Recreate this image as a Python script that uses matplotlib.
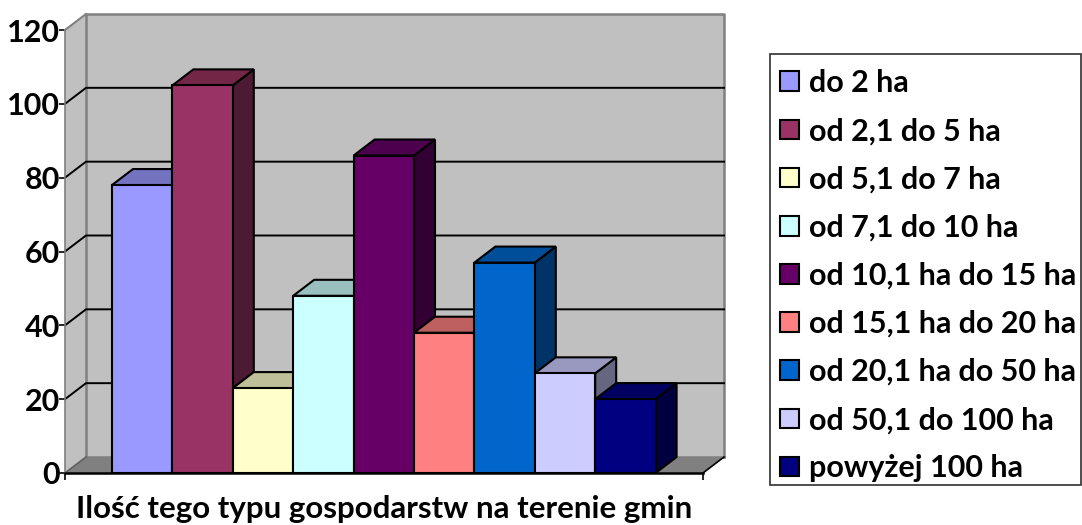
import matplotlib
matplotlib.use("Agg")
import matplotlib.pyplot as plt
from matplotlib.patches import Patch, Polygon, Rectangle

plt.rcParams['font.family'] = ['Lato', 'DejaVu Sans']

labels = ["do 2 ha", "od 2,1 do 5 ha", "od 5,1 do 7 ha", "od 7,1 do 10 ha", "od 10,1 ha do 15 ha",
          "od 15,1 ha do 20 ha", "od 20,1 ha do 50 ha", "od 50,1 do 100 ha", "powyżej 100 ha"]
values = [78, 105, 23, 48, 86, 38, 57, 27, 20]
front_colors = ["#9999FF", "#993366", "#FFFFCC", "#CCFFFF", "#660066", "#FF8080", "#0066CC", "#CCCCFF", "#000080"]
top_colors = ["#7373BF", "#732645", "#BFBF99", "#99BFBF", "#4D004D", "#BF6060", "#004D99", "#9999BF", "#000060"]
side_colors = ["#4D4D80", "#4D1A33", "#808066", "#668080", "#330033", "#804040", "#003366", "#666680", "#000040"]
yticks = [0, 20, 40, 60, 80, 100, 120]

W, H = 1082, 525
fig = plt.figure(figsize=(W / 100, H / 100), dpi=100)
ax = fig.add_axes([65 / W, 1 - 473 / H, 638 / W, 443 / H])

bar_w = 1
xmax = 638 / 60.4
ax.set_xlim(0, xmax)
ax.set_ylim(0, 120)
dx = 21 / 60.4   # depth of the 3d look
dy = 16 / (443 / 120)
x0 = 47 / 60.4

# walls and floor
ax.add_patch(Polygon([(dx, dy), (xmax + dx, dy), (xmax + dx, 120 + dy), (dx, 120 + dy)], fc="#C0C0C0", ec="none", clip_on=False, zorder=1))
ax.add_patch(Polygon([(0, 0), (dx, dy), (dx, 120 + dy), (0, 120)], fc="#C0C0C0", ec="none", clip_on=False, zorder=1))
ax.add_patch(Polygon([(0, 0), (xmax, 0), (xmax + dx, dy), (dx, dy)], fc="#808080", ec="none", clip_on=False, zorder=1))
ax.plot([dx, dx, xmax + dx, xmax + dx], [dy, 120 + dy, 120 + dy, dy], color="#808080", lw=1.8, clip_on=False, zorder=2)
ax.plot([dx, xmax + dx], [dy, dy], color="#808080", lw=1.8, clip_on=False, zorder=2)
ax.plot([0, dx], [120, 120 + dy], color="#808080", lw=1.5, clip_on=False, zorder=2)
ax.plot([xmax, xmax + dx], [0, dy], color="black", lw=1.2, clip_on=False, zorder=2)
ax.plot([0, dx], [0, dy], color="#606060", lw=1.2, clip_on=False, zorder=2)

for t in yticks[1:-1]:
    ax.plot([0, dx, xmax + dx], [t, t + dy, t + dy], color="black", lw=1.4, clip_on=False, zorder=2)

# bars from left to right so later ones cover earlier sides
z = 3
for i, v in enumerate(values):
    left = x0 + i * bar_w
    right = left + bar_w
    ax.add_patch(Polygon([(right, 0), (right + dx, dy), (right + dx, v + dy), (right, v)], fc=side_colors[i], ec="black", lw=1.5, clip_on=False, zorder=z))
    ax.add_patch(Polygon([(left, v), (right, v), (right + dx, v + dy), (left + dx, v + dy)], fc=top_colors[i], ec="black", lw=1.5, clip_on=False, zorder=z))
    ax.bar(left, v, width=bar_w, align="edge", color=front_colors[i], edgecolor="black", lw=1.5, zorder=z + 1)
    z += 2

for s in ["top", "right"]:
    ax.spines[s].set_visible(False)
ax.spines["left"].set_color("#808080")
ax.spines["left"].set_linewidth(1.2)
ax.spines["bottom"].set_linewidth(1.8)
ax.spines["bottom"].set_zorder(30)

ax.set_yticks(yticks)
ax.set_yticklabels([str(t) for t in yticks], fontsize=22, fontweight="bold")
ax.tick_params(axis="y", length=4, width=1.2, pad=-0.5)
ax.set_xticks([0, xmax])
ax.set_xticklabels([])
ax.tick_params(axis="x", length=5, width=1.2)
ax.set_xlabel("Ilość tego typu gospodarstw na terenie gmin", fontsize=22.5, fontweight="bold", labelpad=7)

# legend box
fig.add_artist(Rectangle((770 / W, 1 - 485 / H), 311 / W, 431 / H, transform=fig.transFigure, fc="white", ec="#303030", lw=1.2))
handles = [Patch(fc=c, ec="black", lw=1.5) for c in front_colors]
fig.legend(handles, labels, loc="upper left", bbox_to_anchor=(780 / W, 1 - 69 / H), frameon=False,
           prop={"size": 22, "weight": "bold"}, handlelength=0.62, handleheight=0.62, handletextpad=0.33,
           labelspacing=0.66, borderpad=0, borderaxespad=0)

fig.savefig("out.png", dpi=100)
